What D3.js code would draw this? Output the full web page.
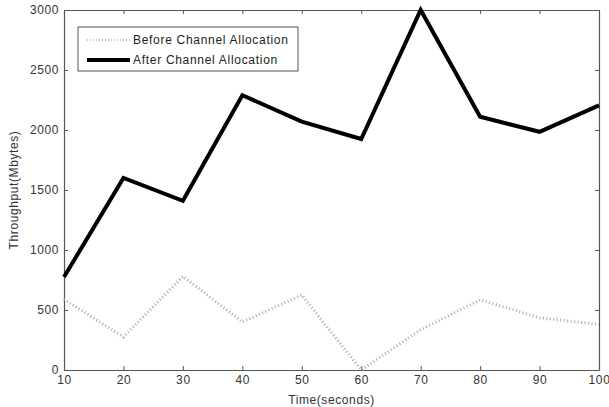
<!DOCTYPE html>
<html>
<head>
<meta charset="utf-8">
<script src="https://cdn.jsdelivr.net/npm/d3@7"></script>
<style>
  body { margin: 0; background: #fff; }
  text { font-family: "Liberation Sans", Arial, sans-serif; }
</style>
</head>
<body>
<svg id="chart"></svg>
<script>
const times = [10, 20, 30, 40, 50, 60, 70, 80, 90, 100];
const beforeAlloc = [590, 275, 780, 400, 625, 0, 335, 585, 435, 380];
const afterAlloc = [775, 1600, 1410, 2290, 2070, 1925, 3000, 2110, 1985, 2205];
const xTicks = [10, 20, 30, 40, 50, 60, 70, 80, 90, 100];
const yTicks = [0, 500, 1000, 1500, 2000, 2500, 3000];
const seriesNames = ["Before Channel Allocation", "After Channel Allocation"];

const svg_size = {width: 609, height: 407};
const margin = {top: 10, right: 10, bottom: 37, left: 64};
const plot_width = svg_size.width - margin.left - margin.right;
const plot_height = svg_size.height - margin.top - margin.bottom;

const svg = d3.select("#chart")
    .attr("width", svg_size.width)
    .attr("height", svg_size.height);
const plot = svg.append("g")
    .attr("transform", `translate(${margin.left},${margin.top})`);

const x = d3.scaleLinear().domain([10, 100]).range([0, plot_width]);
const y = d3.scaleLinear().domain([0, 3000]).range([plot_height, 0]);

const axisColor = "#555";

// matlab style box with inward ticks on all sides
function styleAxis(g) {
    g.select(".domain").attr("stroke", axisColor).attr("stroke-width", 1.2);
    g.selectAll(".tick line").attr("stroke", axisColor);
    g.selectAll(".tick text").attr("fill", "#333")
        .style("font-size", "12px")
        .style("letter-spacing", "0.6px");
}

plot.append("g")
    .attr("transform", `translate(0,${plot_height})`)
    .call(d3.axisBottom(x).tickValues(xTicks).tickSizeInner(-4).tickSizeOuter(0).tickPadding(5).tickFormat(d3.format("d")))
    .call(styleAxis);
plot.append("g")
    .call(d3.axisTop(x).tickValues(xTicks).tickSizeInner(-4).tickSizeOuter(0).tickFormat(""))
    .call(styleAxis);
plot.append("g")
    .call(d3.axisLeft(y).tickValues(yTicks).tickSizeInner(-4).tickSizeOuter(0).tickPadding(5).tickFormat(d3.format("d")))
    .call(styleAxis);
plot.append("g")
    .attr("transform", `translate(${plot_width},0)`)
    .call(d3.axisRight(y).tickValues(yTicks).tickSizeInner(-4).tickSizeOuter(0).tickFormat(""))
    .call(styleAxis);

// axis labels
svg.append("text")
    .attr("x", margin.left + plot_width / 2)
    .attr("y", 404)
    .attr("text-anchor", "middle")
    .attr("fill", "#333")
    .style("font-size", "12px")
    .style("letter-spacing", "0.6px")
    .text("Time(seconds)");
svg.append("text")
    .attr("transform", `translate(18,${margin.top + plot_height / 2}) rotate(-90)`)
    .attr("text-anchor", "middle")
    .attr("fill", "#333")
    .style("font-size", "12px")
    .style("letter-spacing", "0.6px")
    .text("Throughput(Mbytes)");

const line = d3.line()
    .x((d, i) => x(times[i]))
    .y(d => y(d));

plot.append("path")
    .datum(beforeAlloc)
    .attr("fill", "none")
    .attr("stroke", "#aaa")
    .attr("stroke-width", 3)
    .attr("stroke-dasharray", "1,2.5")
    .attr("d", line);

plot.append("path")
    .datum(afterAlloc)
    .attr("fill", "none")
    .attr("stroke", "#000")
    .attr("stroke-width", 4)
    .attr("stroke-linejoin", "miter")
    .attr("d", line);

// legend
const legend = svg.append("g").attr("transform", "translate(78,27)");
legend.append("rect")
    .attr("width", 220)
    .attr("height", 44)
    .attr("fill", "#fff")
    .attr("stroke", axisColor)
    .attr("stroke-width", 1);
const styles = [
    {stroke: "#c4c4c4", width: 2, dash: "1,2"},
    {stroke: "#000", width: 4, dash: null}
];
seriesNames.forEach((name, i) => {
    const cy = 13 + i * 20;
    legend.append("line")
        .attr("x1", 9).attr("x2", 52)
        .attr("y1", cy).attr("y2", cy)
        .attr("stroke", styles[i].stroke)
        .attr("stroke-width", styles[i].width)
        .attr("stroke-dasharray", styles[i].dash);
    legend.append("text")
        .attr("x", 55)
        .attr("y", cy + 4)
        .attr("fill", "#222")
        .style("font-size", "12px")
        .style("letter-spacing", "0.7px")
        .text(name);
});
</script>
</body>
</html>
